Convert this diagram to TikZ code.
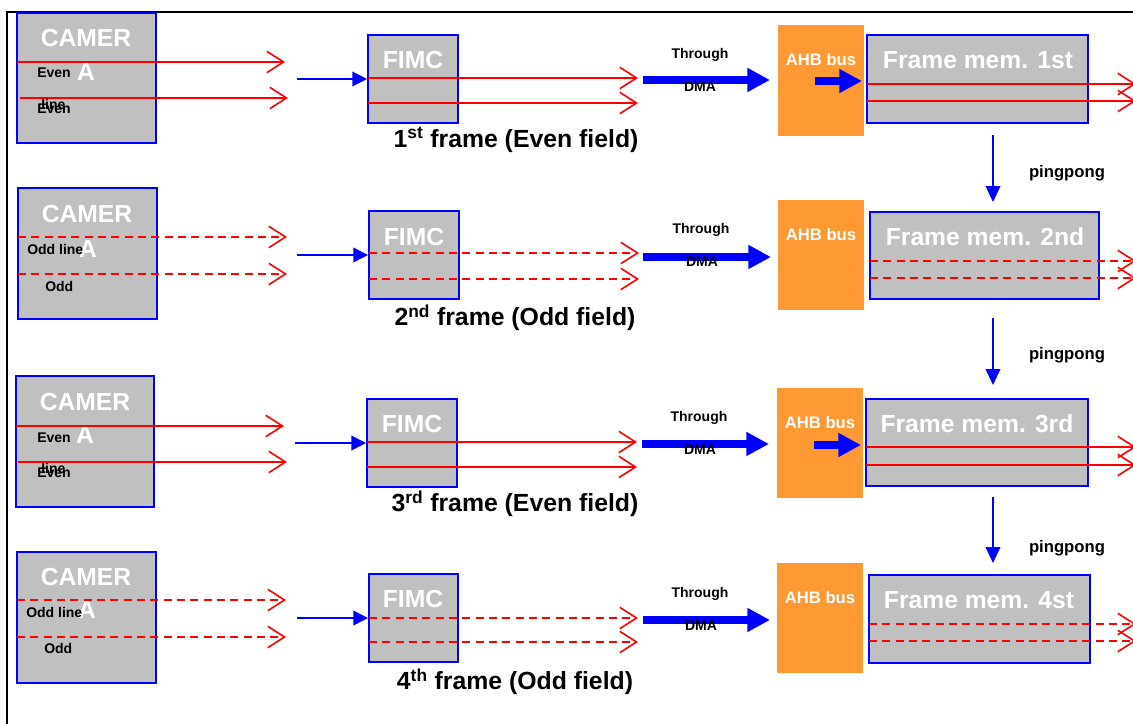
\documentclass[tikz,border=0pt]{standalone}
\usepackage{fontspec}
\setmainfont{Liberation Sans}
\usetikzlibrary{arrows.meta}
\definecolor{boxgray}{RGB}{192,192,192}
\definecolor{ahbor}{RGB}{255,153,51}
\newcommand{\bx}[6]{\node[#1, minimum width={(#5-#3)*0.75pt}, minimum height={(#6-#4)*0.75pt}] (#2) at ({(#3+#5)/2},{(#4+#6)/2}) {};}
\begin{document}
\begin{tikzpicture}[x=0.75pt,y=-0.75pt,
  graybox/.style={rectangle, draw=blue, line width=1.5pt, fill=boxgray, inner sep=0pt},
  ahbbox/.style={rectangle, fill=ahbor, inner sep=0pt},
  bigw/.style={text=white, font=\bfseries\fontsize{18.5}{20}\selectfont, inner sep=0pt},
  labt/.style={text=black, font=\bfseries\fontsize{18.6}{20}\selectfont, inner sep=0pt},
  midw/.style={text=white, font=\bfseries\fontsize{12.5}{14}\selectfont, inner sep=0pt},
  midb/.style={text=black, font=\bfseries\fontsize{12.5}{14}\selectfont, inner sep=0pt},
  smallt/.style={text=black, font=\bfseries\fontsize{10.5}{12}\selectfont, inner sep=0pt, anchor=west},
  redln/.style={draw=red, line width=1.2pt, -{Straight Barb[length=12.5pt,width=16pt,line width=1.2pt]}},
  reddash/.style={redln, dash pattern=on 6pt off 4pt},
  thinblue/.style={draw=blue, line width=1.2pt, -{Triangle[length=11pt,width=11pt]}},
  ppblue/.style={draw=blue, line width=1.2pt, -{Triangle[length=12pt,width=11pt]}},
  thickblue/.style={draw=blue, line width=6pt, -{Triangle[length=17pt,width=17pt]}},
  border/.style={draw=black, line width=1.5pt}
]
\useasboundingbox (0,0) rectangle (1133,724);
\clip (0,0) rectangle (1133,724);
\coordinate (bTL) at (7,12);
\coordinate (bTR) at (1140,12);
\coordinate (bBL) at (7,730);
\draw[border] (bTR) -- (bTL) -- (bBL);

% ---------- boxes ----------
\bx{graybox}{cam1}{17}{13}{156}{143}
\bx{graybox}{fimc1}{368}{35}{458}{123}
\bx{ahbbox}{ahb1}{778}{25}{864}{136}
\bx{graybox}{mem1}{867}{35}{1088}{123}

\bx{graybox}{cam2}{18}{188}{157}{319}
\bx{graybox}{fimc2}{369}{211}{459}{299}
\bx{ahbbox}{ahb2}{778}{200}{864}{310}
\bx{graybox}{mem2}{870}{212}{1099}{299}

\bx{graybox}{cam3}{16}{376}{154}{507}
\bx{graybox}{fimc3}{367}{399}{457}{487}
\bx{ahbbox}{ahb3}{777}{388}{863}{498}
\bx{graybox}{mem3}{866}{399}{1088}{486}

\bx{graybox}{cam4}{17}{552}{156}{683}
\bx{graybox}{fimc4}{369}{574}{458}{662}
\bx{ahbbox}{ahb4}{777}{563}{863}{673}
\bx{graybox}{mem4}{869}{575}{1090}{663}

% ---------- texts inside boxes ----------
\node[bigw] (cam1t) at (86,38) {CAMER};
\node[bigw] (cam1a) at (86,72) {A};
\node[smallt] (cam1l1) at (37,73) {Even};
\node[smallt] (cam1l2) at (41,104) {line};
\node[smallt] (cam1l3) at (37,109) {Even};

\node[bigw] (cam2t) at (87,214) {CAMER};
\node[bigw] (cam2a) at (88,249) {A};
\node[smallt] (cam2l1) at (27,249) {Odd line};
\node[smallt] (cam2l2) at (45,286) {Odd};

\node[bigw] (cam3t) at (85,402) {CAMER};
\node[bigw] (cam3a) at (85,435) {A};
\node[smallt] (cam3l1) at (37,438) {Even};
\node[smallt] (cam3l2) at (41,468) {line};
\node[smallt] (cam3l3) at (37,473) {Even};

\node[bigw] (cam4t) at (86,577) {CAMER};
\node[bigw] (cam4a) at (87,610) {A};
\node[smallt] (cam4l1) at (26,612) {Odd line};
\node[smallt] (cam4l2) at (44,648) {Odd};

\node[bigw] (fimc1t) at (413,60) {FIMC};
\node[bigw] (fimc2t) at (414,237) {FIMC};
\node[bigw] (fimc3t) at (412,424) {FIMC};
\node[bigw] (fimc4t) at (413,599) {FIMC};

\node[midw] (ahb1t) at (821,60) {AHB bus};
\node[midw] (ahb2t) at (821,235) {AHB bus};
\node[midw] (ahb3t) at (820,423) {AHB bus};
\node[midw] (ahb4t) at (820,598) {AHB bus};

\node[bigw] (mem1t) at (978,60) {Frame mem. 1st};
\node[bigw] (mem2t) at (985,237) {Frame mem. 2nd};
\node[bigw] (mem3t) at (977,424) {Frame mem. 3rd};
\node[bigw] (mem4t) at (979,600) {Frame mem. 4st};

% ---------- coordinates ----------
\coordinate (r1a) at (17,62);  \coordinate (r1aE) at (285,62);
\coordinate (r1b) at (20,98);  \coordinate (r1bE) at (288,98);
\coordinate (f1a) at (368,78); \coordinate (f1aE) at (638,78);
\coordinate (f1b) at (368,103);\coordinate (f1bE) at (638,103);
\coordinate (m1a) at (867,84); \coordinate (m1aE) at (1136,84);
\coordinate (m1b) at (867,101);\coordinate (m1bE) at (1136,101);
\coordinate (b1s) at (297,79);
\coordinate (t1s) at (643,80); \coordinate (t1e) at (770,80);
\coordinate (s1s) at (815,81); \coordinate (s1e) at (862,81);
\coordinate (p1s) at (993,135);\coordinate (p1e) at (993,202);

\coordinate (r2a) at (18,237); \coordinate (r2aE) at (287,237);
\coordinate (r2b) at (18,274); \coordinate (r2bE) at (287,274);
\coordinate (f2a) at (369,253);\coordinate (f2aE) at (639,253);
\coordinate (f2b) at (369,279);\coordinate (f2bE) at (639,279);
\coordinate (m2a) at (870,261);\coordinate (m2aE) at (1136,261);
\coordinate (m2b) at (870,278);\coordinate (m2bE) at (1136,278);
\coordinate (b2s) at (297,255);
\coordinate (t2s) at (643,257);\coordinate (t2e) at (771,257);
\coordinate (p2s) at (993,318);\coordinate (p2e) at (993,385);

\coordinate (r3a) at (16,426); \coordinate (r3aE) at (284,426);
\coordinate (r3b) at (18,462); \coordinate (r3bE) at (287,462);
\coordinate (f3a) at (367,442);\coordinate (f3aE) at (637,442);
\coordinate (f3b) at (367,467);\coordinate (f3bE) at (637,467);
\coordinate (m3a) at (866,447);\coordinate (m3aE) at (1136,447);
\coordinate (m3b) at (866,465);\coordinate (m3bE) at (1136,465);
\coordinate (b3s) at (295,443);
\coordinate (t3s) at (642,444);\coordinate (t3e) at (769,444);
\coordinate (s3s) at (814,445);\coordinate (s3e) at (861,445);
\coordinate (p3s) at (993,497);\coordinate (p3e) at (993,563);

\coordinate (r4a) at (17,600); \coordinate (r4aE) at (286,600);
\coordinate (r4b) at (17,637); \coordinate (r4bE) at (286,637);
\coordinate (f4a) at (369,618);\coordinate (f4aE) at (638,618);
\coordinate (f4b) at (369,642);\coordinate (f4bE) at (638,642);
\coordinate (m4a) at (869,624);\coordinate (m4aE) at (1136,624);
\coordinate (m4b) at (869,641);\coordinate (m4bE) at (1136,641);
\coordinate (b4s) at (297,618);
\coordinate (t4s) at (643,620);\coordinate (t4e) at (770,620);

% ---------- red lines ----------
\draw[redln] (r1a) -- (r1aE);
\draw[redln] (r1b) -- (r1bE);
\draw[redln] (f1a) -- (f1aE);
\draw[redln] (f1b) -- (f1bE);
\draw[redln] (m1a) -- (m1aE);
\draw[redln] (m1b) -- (m1bE);

\draw[reddash] (r2a) -- (r2aE);
\draw[reddash] (r2b) -- (r2bE);
\draw[reddash] (f2a) -- (f2aE);
\draw[reddash] (f2b) -- (f2bE);
\draw[reddash] (m2a) -- (m2aE);
\draw[reddash] (m2b) -- (m2bE);

\draw[redln] (r3a) -- (r3aE);
\draw[redln] (r3b) -- (r3bE);
\draw[redln] (f3a) -- (f3aE);
\draw[redln] (f3b) -- (f3bE);
\draw[redln] (m3a) -- (m3aE);
\draw[redln] (m3b) -- (m3bE);

\draw[reddash] (r4a) -- (r4aE);
\draw[reddash] (r4b) -- (r4bE);
\draw[reddash] (f4a) -- (f4aE);
\draw[reddash] (f4b) -- (f4bE);
\draw[reddash] (m4a) -- (m4aE);
\draw[reddash] (m4b) -- (m4bE);

% ---------- blue arrows ----------
\draw[thinblue] (b1s) -- (fimc1.west);
\draw[thinblue] (b2s) -- (fimc2.west);
\draw[thinblue] (b3s) -- (fimc3.west);
\draw[thinblue] (b4s) -- (fimc4.west);

\draw[thickblue] (t1s) -- (t1e);
\draw[thickblue] (t2s) -- (t2e);
\draw[thickblue] (t3s) -- (t3e);
\draw[thickblue] (t4s) -- (t4e);

\draw[thickblue] (s1s) -- (s1e);
\draw[thickblue] (s3s) -- (s3e);

\draw[ppblue] (p1s) -- (p1e);
\draw[ppblue] (p2s) -- (p2e);
\draw[ppblue] (p3s) -- (p3e);

% ---------- outside labels ----------
\node[smallt, anchor=center] (th1) at (700,55) {Through};
\node[smallt, anchor=center] (dm1) at (700,87) {DMA};
\node[smallt, anchor=center] (th2) at (701,230) {Through};
\node[smallt, anchor=center] (dm2) at (702,262) {DMA};
\node[smallt, anchor=center] (th3) at (699,418) {Through};
\node[smallt, anchor=center] (dm3) at (700,450) {DMA};
\node[smallt, anchor=center] (th4) at (700,594) {Through};
\node[smallt, anchor=center] (dm4) at (701,626) {DMA};

\node[midb] (pp1) at (1067,173) {pingpong};
\node[midb] (pp2) at (1067,355) {pingpong};
\node[midb] (pp3) at (1067,548) {pingpong};

\node[labt] (lab1) at (516,140) {1\textsuperscript{st} frame (Even field)};
\node[labt] (lab2) at (515,318) {2\textsuperscript{nd} frame (Odd field)};
\node[labt] (lab3) at (515,504) {3\textsuperscript{rd} frame (Even field)};
\node[labt] (lab4) at (515,682) {4\textsuperscript{th} frame (Odd field)};
\end{tikzpicture}
\end{document}
